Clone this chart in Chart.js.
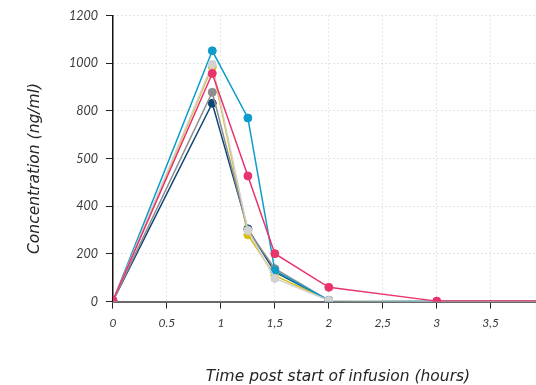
<!DOCTYPE html>
<html>
<head>
<meta charset="utf-8">
<script src="https://cdn.jsdelivr.net/npm/chart.js@4.4.1/dist/chart.umd.min.js"></script>
<style>
  html, body { margin: 0; padding: 0; background: #fff; }
  #wrap { width: 536px; height: 385px; }
</style>
</head>
<body>
<div id="wrap"><canvas id="pkChart" width="536" height="385"></canvas></div>
<script>
// --- Data ---
const times = [0, 0.92, 1.25, 1.5, 2, 3, 4];

const pink = [5, 957, 527, 201, 60, 2, 2];
const lightGrey = [3, 995, 298, 97, 5, 1, 1];
const blue = [3, 1052, 770, 130, 5, 1, 1];
const grey = [3, 878, 300, 138, 5, 1, 1];
const yellow = [3, 985, 280, 109, 5, 1, 1];
const navy = [3, 832, 305, 124, 5, 1, 1];

const xTicks = [0, 0.5, 1, 1.5, 2, 2.5, 3, 3.5];
const xTickLabels = ['0', '0.5', '1', '1,5', '2', '2,5', '3', '3,5'];
const yTicks = [0, 200, 400, 600, 800, 1000, 1200];
const yTickLabels = ['0', '200', '400', '500', '800', '1000', '1200'];

const xTitle = 'Time post start of infusion (hours)';
const yTitle = 'Concentration (ng/ml)';

// --- Helpers ---
const toPoints = (values) => values.map((v, i) => ({ x: times[i], y: v }));

// markers only where there was a sample
const makeSeries = (label, values, color, markerCount) => ({
    label: label,
    data: toPoints(values),
    borderColor: color,
    backgroundColor: color,
    borderWidth: 1.5,
    pointRadius: (ctx) => ctx.dataIndex < markerCount ? 4 : 0,
    pointHoverRadius: 4,
    pointBorderWidth: 1,
    tension: 0
});

const tickFont = { family: 'Lato, "Open Sans", sans-serif', style: 'italic', size: 12 };
const TITLE_FONT = 'italic 15.5px "DejaVu Sans", sans-serif';

const gridOpts = {
    color: '#cfcfcf',
    tickColor: '#222',
    tickBorderDash: [],
    tickLength: 7,
    lineWidth: 1
};

// axis titles drawn relative to the chart area (they sit a bit off-centre in the original)
const axisTitles = {
    id: 'axisTitles',
    afterDraw(chart) {
        const { ctx, chartArea } = chart;
        ctx.save();
        ctx.font = TITLE_FONT;
        ctx.fillStyle = '#262626';
        ctx.textAlign = 'center';
        ctx.textBaseline = 'middle';
        ctx.fillText(xTitle, chartArea.left + 225, chartArea.bottom + 75);
        ctx.translate(chartArea.left - 78, chartArea.top + 153);
        ctx.rotate(-Math.PI / 2);
        ctx.fillText(yTitle, 0, 0);
        ctx.restore();
    }
};

const ctx = document.getElementById('pkChart').getContext('2d');
new Chart(ctx, {
    type: 'line',
    data: {
        datasets: [
            makeSeries('Pink', pink, '#e8336d', 6),
            makeSeries('Light grey', lightGrey, '#d2d2d2', 5),
            makeSeries('Blue', blue, '#0e9ccb', 5),
            makeSeries('Grey', grey, '#8e8e8e', 5),
            makeSeries('Yellow', yellow, '#d8bd14', 5),
            makeSeries('Navy', navy, '#0b4677', 5)
        ]
    },
    options: {
        responsive: false,
        animation: false,
        layout: { autoPadding: false, padding: { top: 8, left: 61, right: 0, bottom: 48 } },
        plugins: {
            legend: { display: false },
            tooltip: { enabled: false }
        },
        scales: {
            x: {
                type: 'linear',
                min: 0,
                max: 3.92,
                afterBuildTicks: (scale) => {
                    scale.ticks = xTicks.map(v => ({ value: v }));
                },
                ticks: {
                    color: '#3a3a3a',
                    font: tickFont,
                    padding: 7,
                    maxRotation: 0,
                    callback: (value) => {
                        const i = xTicks.indexOf(value);
                        return i >= 0 ? xTickLabels[i] : '';
                    }
                },
                grid: gridOpts,
                border: { color: '#6a6a6a', width: 2, dash: [1, 3] }
            },
            y: {
                min: 0,
                max: 1200,
                afterBuildTicks: (scale) => {
                    scale.ticks = yTicks.map(v => ({ value: v }));
                },
                ticks: {
                    color: '#3a3a3a',
                    font: { ...tickFont, size: 12.5 },
                    padding: 8,
                    callback: (value) => {
                        const i = yTicks.indexOf(value);
                        return i >= 0 ? yTickLabels[i] : '';
                    }
                },
                grid: gridOpts,
                border: { color: '#111', width: 1.5, dash: [1, 3] }
            }
        }
    },
    plugins: [axisTitles]
});
</script>
</body>
</html>
